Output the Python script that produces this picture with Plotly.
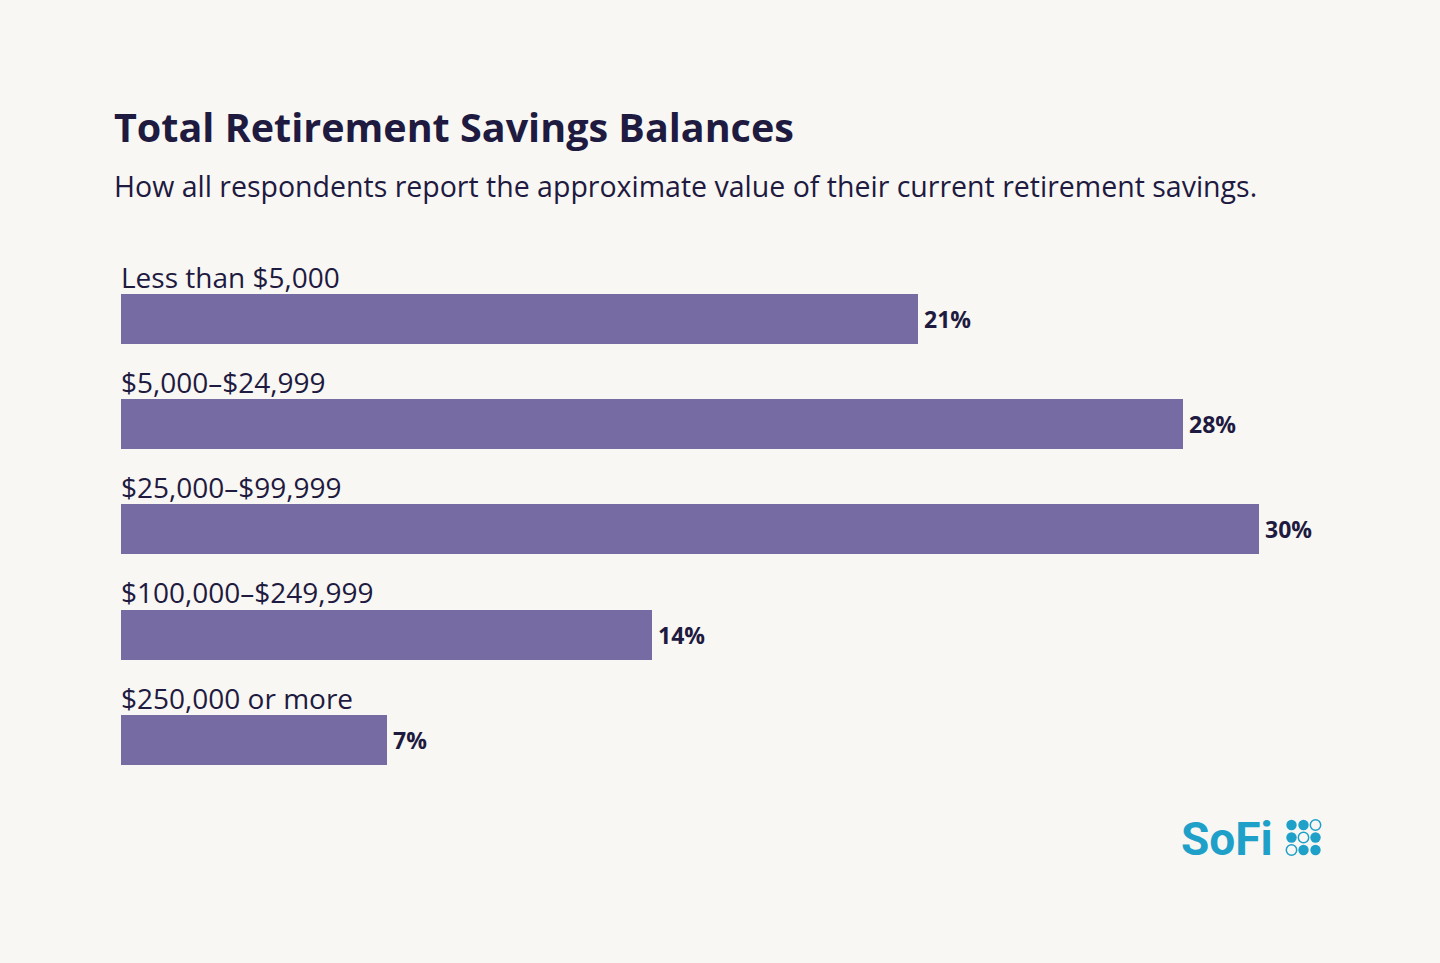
import plotly.graph_objects as go

# data
categories = ["Less than $5,000", "$5,000–$24,999", "$25,000–$99,999",
              "$100,000–$249,999", "$250,000 or more"]
shares = [21, 28, 30, 14, 7]
value_labels = ["21%", "28%", "30%", "14%", "7%"]

title = "Total Retirement Savings Balances"
subtitle = "How all respondents report the approximate value of their current retirement savings."

BG = "#f8f7f4"
BAR = "#766ba2"
INK = "#1e1a40"
LOGO = "#1ea0c9"
FONT = "Open Sans"

pos = list(range(len(categories)))

fig = go.Figure()
fig.add_trace(go.Bar(
    x=shares, y=pos, orientation="h",
    marker=dict(color=BAR, line=dict(width=0)),
    width=0.475, hoverinfo="skip",
))

# plot area: x 121..1259, y 161..845
L, R, T, B = 121, 1259, 161, 845
W, H = R - L, B - T

def px(x):
    return (x - L) / W

def py(y):
    return (B - y) / H

annotations = []
for i, (cat, v, lab) in enumerate(zip(categories, shares, value_labels)):
    annotations.append(dict(
        x=0, y=i - 0.4, xref="x", yref="y", text=cat, showarrow=False,
        xanchor="left", yanchor="middle", xshift=-2,
        font=dict(family=FONT, size=28, color=INK),
    ))
    annotations.append(dict(
        x=v, y=i, xref="x", yref="y", text="<b>" + lab + "</b>", showarrow=False,
        xanchor="left", yanchor="middle", xshift=4,
        font=dict(family=FONT, size=23, color=INK),
    ))

annotations += [
    dict(x=px(112), y=py(127), xref="paper", yref="paper", text="<b>" + title + "</b>",
         showarrow=False, xanchor="left", yanchor="middle",
         font=dict(family=FONT, size=39.5, color=INK)),
    dict(x=px(112), y=py(186), xref="paper", yref="paper", text=subtitle,
         showarrow=False, xanchor="left", yanchor="middle",
         font=dict(family=FONT, size=28.5, color=INK)),
    dict(x=px(1179), y=py(839), xref="paper", yref="paper", text="<b>SoFi</b>",
         showarrow=False, xanchor="left", yanchor="middle",
         font=dict(family="Roboto", size=46, color=LOGO)),
]

# logo dot grid (1 = filled, 0 = ring)
dot_grid = [[1, 1, 0], [1, 0, 1], [0, 1, 1]]
dot_x = [1291.5, 1303.5, 1315.5]
dot_y = [825, 837.5, 850]
shapes = []
for r, row in enumerate(dot_grid):
    for c, filled in enumerate(row):
        shapes.append(dict(
            type="circle", xref="paper", yref="paper",
            xsizemode="pixel", ysizemode="pixel",
            xanchor=px(dot_x[c]), yanchor=py(dot_y[r]),
            x0=-5.2, x1=5.2, y0=-5.2, y1=5.2,
            fillcolor=LOGO if filled else BG,
            line=dict(color=LOGO, width=0 if filled else 1.5),
        ))

fig.update_layout(
    width=1440, height=963,
    paper_bgcolor=BG, plot_bgcolor=BG,
    margin=dict(l=L, r=1440 - R, t=T, b=963 - B, pad=0),
    showlegend=False,
    bargap=0,
    xaxis=dict(range=[0, 30], visible=False, fixedrange=True),
    yaxis=dict(range=[5, -1.5], visible=False, fixedrange=True),
    annotations=annotations,
    shapes=shapes,
)

fig.write_html(
    "out.html",
    config={"displayModeBar": False},
    post_script="document.body.style.margin='0';document.body.style.background='%s';" % BG,
)
